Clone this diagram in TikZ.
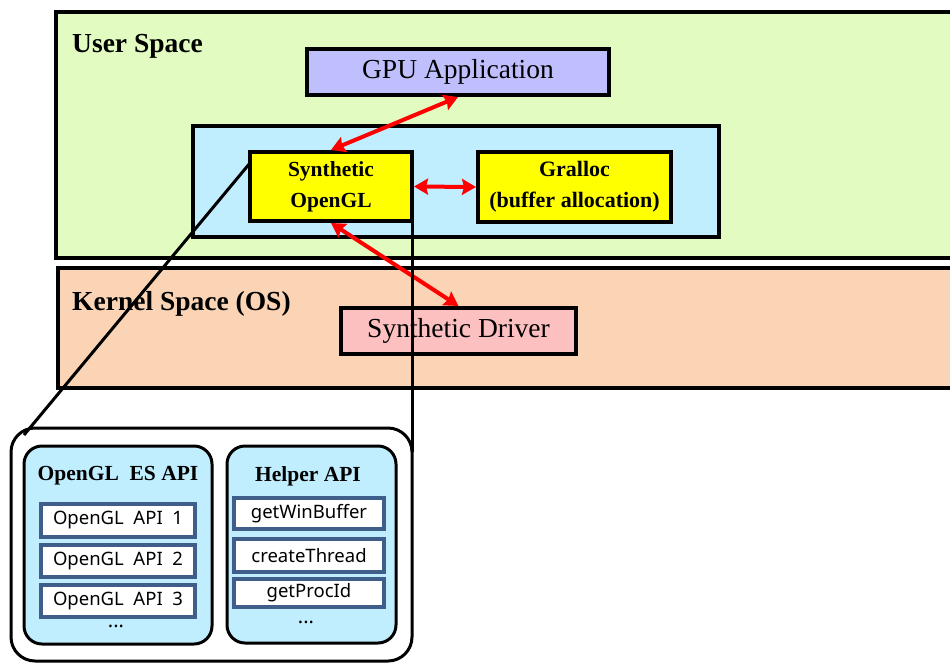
\documentclass[tikz,border=0pt]{standalone}
\usepackage{fontspec}
\setmainfont{Liberation Serif}
\newfontfamily\apisans{Noto Sans}
\usetikzlibrary{arrows.meta}
\definecolor{userg}{HTML}{E2FBC0}
\definecolor{kernp}{HTML}{FAD4B4}
\definecolor{lblue}{HTML}{C0EEFE}
\definecolor{lav}{HTML}{BFBFFD}
\definecolor{pinkd}{HTML}{FDC0C0}
\definecolor{steel}{HTML}{3F5F8A}
\definecolor{yel}{HTML}{FFFF00}
\tikzset{
  space/.style={draw=black, line width=4pt},
  solidbox/.style={draw=black, line width=4pt, inner sep=0pt, align=center},
  roundbox/.style={draw=black, line width=3pt, rounded corners=20pt, inner sep=0pt},
  itembox/.style={draw=steel, fill=white, line width=4pt, inner sep=0pt, font=\apisans\fontsize{18.5}{20}\selectfont},
  redarrow/.style={draw=red, line width=4pt, {Stealth[length=14pt,width=16pt,inset=2pt]}-{Stealth[length=14pt,width=16pt,inset=2pt]}},
  zoomline/.style={draw=black, line width=3pt},
  bigtitle/.style={font=\bfseries\fontsize{27.5}{29}\selectfont, anchor=base west, inner sep=0pt},
  dots/.style={font=\apisans\bfseries\fontsize{20}{22}\selectfont, inner sep=0pt},
}
\begin{document}
\begin{tikzpicture}[x=1pt, y=-1pt]
\useasboundingbox (0,0) rectangle (950,664);
\clip (0,0) rectangle (950,664);
\fill[white] (0,0) rectangle (950,664);
% spaces
\draw[space, fill=userg] (56,12) rectangle (1000,258);
\draw[space, fill=kernp] (58,268) rectangle (1000,388);
\node[bigtitle] (ulabel) at (72,52) {User Space};
\node[bigtitle] (klabel) at (72,310) {Kernel Space (OS)};
% boxes
\node[solidbox, fill=lav, minimum width=302pt, minimum height=46pt, font=\fontsize{27.5}{29}\selectfont] (gpu) at (458,72) {GPU Application};
\node[solidbox, fill=lblue, minimum width=526pt, minimum height=111pt] (blue) at (456,181.5) {};
\node[solidbox, fill=yel, minimum width=162pt, minimum height=69pt, font=\bfseries\fontsize{21.5}{31}\selectfont] (syngl) at (331,186.5) {Synthetic\\OpenGL};
\node[solidbox, fill=yel, minimum width=193pt, minimum height=70pt, font=\bfseries\fontsize{22}{31}\selectfont] (gralloc) at (574.5,187) {Gralloc\\(buffer allocation)};
\node[solidbox, fill=pinkd, minimum width=235pt, minimum height=46pt, font=\fontsize{27.5}{29}\selectfont] (driver) at (458.5,331) {Synthetic Driver};
% red arrows
\draw[redarrow] (gpu.south) -- (syngl.north);
\draw[redarrow] (syngl.east) -- (gralloc.west);
\draw[redarrow] (syngl.south) -- (driver.north);
% zoom-out panel
\node[roundbox, fill=white, rounded corners=24pt, minimum width=401pt, minimum height=233pt] (big) at (211.5,544.5) {};
\coordinate (zA) at (250,163);
\coordinate (zB) at (24,435);
\coordinate (zC) at (412,219);
\coordinate (zD) at (412,452);
\draw[zoomline] (zA) -- (zB);
\draw[zoomline] (zC) -- (zD);
\node[roundbox, fill=lblue, rounded corners=18pt, minimum width=188pt, minimum height=198pt] (es) at (118,545) {};
\node[roundbox, fill=lblue, rounded corners=18pt, minimum width=169pt, minimum height=197pt] (helper) at (311.5,544.5) {};
\node[font=\bfseries\fontsize{21.5}{23}\selectfont, inner sep=0pt] (estitle) at (118,476) {OpenGL\ \ ES API};
\node[font=\bfseries\fontsize{21.5}{23}\selectfont, inner sep=0pt] (htitle) at (308,476) {Helper API};
\node[itembox, minimum width=154pt, minimum height=33pt] (e1) at (118,520.5) {OpenGL\ \ API\ \ 1};
\node[itembox, minimum width=154pt, minimum height=32pt] (e2) at (118,561) {OpenGL\ \ API\ \ 2};
\node[itembox, minimum width=154pt, minimum height=32pt] (e3) at (118,601) {OpenGL\ \ API\ \ 3};
\node[dots] (edots) at (116,626) {...};
\node[itembox, minimum width=150pt, minimum height=31pt] (h1) at (309,513.5) {getWinBuffer};
\node[itembox, minimum width=150pt, minimum height=33pt] (h2) at (309,555.5) {createThread};
\node[itembox, minimum width=150pt, minimum height=28pt] (h3) at (309,593) {getProcId};
\node[dots] (hdots) at (306,622) {...};
\end{tikzpicture}
\end{document}
